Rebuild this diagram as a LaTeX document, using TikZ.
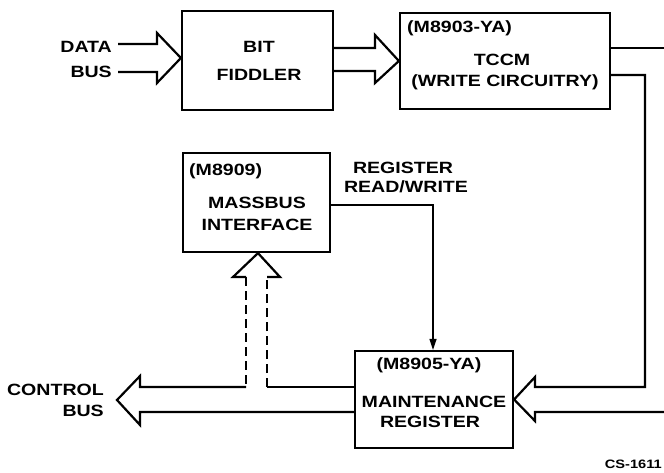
\documentclass[tikz,border=0pt]{standalone}
\usepackage{fontspec}
\setmainfont{Liberation Sans}
\newfontfamily\labfont[FakeStretch=1.2]{Liberation Sans}
\usetikzlibrary{arrows.meta}
\begin{document}
\begin{tikzpicture}[x=1pt,y=-1pt,
  box/.style={draw,line width=2.2pt,inner sep=0pt},
  lab/.style={font=\labfont\bfseries\fontsize{16.3}{18}\selectfont,inner sep=0pt},
  small/.style={font=\labfont\bfseries\fontsize{12.2}{14}\selectfont,inner sep=0pt},
  bus/.style={line width=2.2pt,line join=miter},
  dsh/.style={line width=2.2pt,dash pattern=on 9pt off 5pt},
  thin/.style={line width=1.4pt}]
\useasboundingbox (0,0) rectangle (664,473);
\begin{scope}
\clip (0,0) rectangle (664,473);
% boxes
\node[box,minimum width=151pt,minimum height=99pt] (fid) at (257.5,60.5) {};
\node[box,minimum width=210pt,minimum height=96pt] (tccm) at (505,61) {};
\node[box,minimum width=147pt,minimum height=99pt] (mb) at (256.5,202.5) {};
\node[box,minimum width=158pt,minimum height=97pt] (mr) at (434,399.5) {};
% texts
\node[lab,anchor=east] (tdata) at (112,47) {DATA};
\node[lab,anchor=east] (tbus1) at (112,72) {BUS};
\node[lab] (tbit) at (259,47) {BIT};
\node[lab] (tfid) at (259,75) {FIDDLER};
\node[lab,anchor=west] (tm03) at (407,28) {(M8903-YA)};
\node[lab] (ttccm) at (502,60) {TCCM};
\node[lab] (twc) at (505,82) {(WRITE CIRCUITRY)};
\node[lab,anchor=west] (tm09) at (189,171) {(M8909)};
\node[lab] (tmass) at (257,203) {MASSBUS};
\node[lab] (tint) at (257,225) {INTERFACE};
\node[lab] (treg) at (403,168) {REGISTER};
\node[lab] (trw) at (406,187) {READ/WRITE};
\node[lab] (tm05) at (429,365) {(M8905-YA)};
\node[lab] (tmaint) at (434,402) {MAINTENANCE};
\node[lab] (tmreg) at (430,422) {REGISTER};
\node[lab,anchor=east] (tctl) at (104,390) {CONTROL};
\node[lab,anchor=east] (tbus2) at (104,411) {BUS};
\node[small,anchor=east] (tcs) at (662,464) {CS-1611};
% coordinates
\coordinate (dbL1) at (118,44);
\coordinate (dbL2) at (118,72);
\coordinate (rE1) at (664,48);
\coordinate (rE2) at (664,412);
\coordinate (cbH) at (117,400);
% data bus -> bit fiddler
\draw[bus] (dbL1) -- (157,44) -- (157,33) -- (fid.west |- 0,58) -- (157,83) -- (157,72) -- (dbL2);
% bit fiddler -> TCCM
\draw[bus] (fid.east |- 0,48) -- (375,48) -- (375,35) -- (tccm.west) -- (375,83) -- (375,71) -- (fid.east |- 0,71);
% TCCM right outputs
\draw[bus] (tccm.east |- 0,48) -- (rE1);
\draw[bus] (tccm.east |- 0,75) -- (645,75) -- (645,387) -- (535,387) -- (535,377) -- (mr.east) -- (535,421) -- (535,412) -- (rE2);
% register read/write
\draw[thin,-{Triangle[width=7pt,length=11pt]}] (mb.east |- 0,205) -- (433,205) -- (mr.north -| 433,0);
% control bus and massbus arrow
\draw[bus] (mr.west |- 0,387) -- (267,387);
\draw[dsh] (267,387) -- (267,277);
\draw[bus] (267,277) -- (280,277) -- (mb.south -| 258,0) -- (233,277) -- (246,277);
\draw[dsh] (246,277) -- (246,387);
\draw[bus] (246,387) -- (140,387) -- (140,376) -- (cbH) -- (140,425) -- (140,412) -- (mr.west |- 0,412);
\end{scope}
\end{tikzpicture}
\end{document}
